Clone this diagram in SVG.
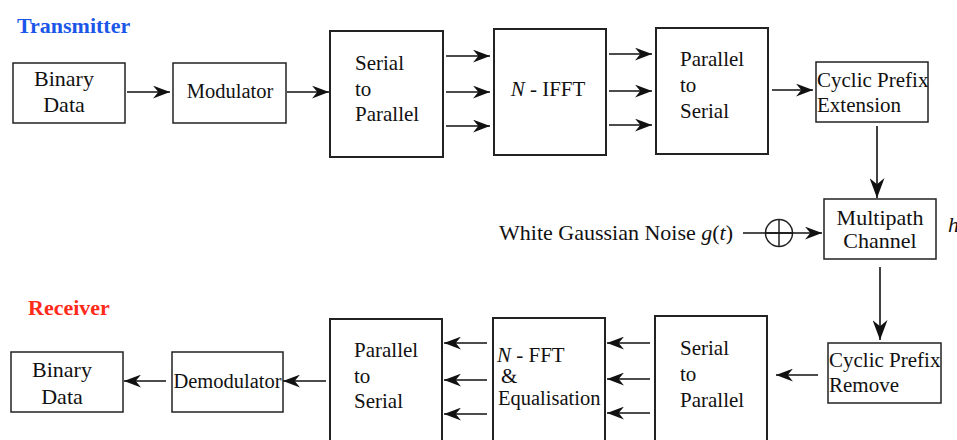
<svg xmlns="http://www.w3.org/2000/svg" width="957" height="440" viewBox="0 0 957 440" font-family="'Liberation Serif', 'DejaVu Serif', serif">
<style>
text{font-family:'Liberation Serif','DejaVu Serif',serif;font-size:21px;fill:#111}
.big{font-size:22px}
.m{font-size:20.5px}
.box{fill:#fff;stroke:#222;stroke-width:1.5}
.tb{stroke-width:2}
.c{text-anchor:middle}
.cn{fill:none;stroke:#111;stroke-width:1.6}
.lbl{font-weight:bold;font-size:22px}
</style>
<defs>
<marker id="ah" viewBox="0 0 16 12" refX="16" refY="6" markerWidth="17" markerHeight="13" markerUnits="userSpaceOnUse" orient="auto">
<path d="M0,0 L16,6 L0,12 L5,6 z" fill="#111"/>
</marker>
<marker id="ahv" viewBox="0 0 16 12" refX="16" refY="6" markerWidth="20" markerHeight="15" markerUnits="userSpaceOnUse" orient="auto">
<path d="M0,0 L16,6 L0,12 L5,6 z" fill="#111"/>
</marker>
</defs>
<rect width="957" height="440" fill="#fff"/>
<text x="17" y="33" class="lbl" style="fill:#1a56e8">Transmitter</text>
<text x="28" y="315" class="lbl" style="fill:#ff2a1a">Receiver</text>

<g id="tx-binary"><rect class="box" x="13" y="63" width="112" height="60"/><text class="c big" x="64" y="86">Binary</text><text class="c big" x="64" y="112">Data</text></g>
<g id="modulator"><rect class="box" x="173" y="63" width="113" height="60"/><text class="c m" x="230" y="98">Modulator</text></g>
<g id="tx-s2p"><rect class="box tb" x="330" y="31" width="113" height="126"/><text x="355" y="70">Serial</text><text x="355" y="96">to</text><text x="355" y="121">Parallel</text></g>
<g id="ifft"><rect class="box tb" x="494" y="29" width="112" height="126"/><text class="c" x="548" y="96"><tspan font-style="italic">N</tspan> - IFFT</text></g>
<g id="tx-p2s"><rect class="box tb" x="656" y="28" width="112" height="126"/><text x="680" y="66">Parallel</text><text x="680" y="92">to</text><text x="680" y="118">Serial</text></g>
<g id="cp-ext"><rect class="box" x="816" y="62" width="112" height="60"/><text x="817" y="87">Cyclic Prefix</text><text x="817" y="112">Extension</text></g>
<g id="channel"><rect class="box" x="824" y="199" width="112" height="60"/><text class="c big" x="880" y="225">Multipath</text><text class="c big" x="880" y="248">Channel</text></g>
<text x="948" y="232" class="big" font-style="italic">h</text>
<g id="noise"><text x="499" y="240" class="big">White Gaussian Noise <tspan font-style="italic">g</tspan>(<tspan font-style="italic">t</tspan>)</text></g>
<g id="adder"><circle cx="779" cy="233" r="13.5" fill="none" stroke="#222" stroke-width="1.5"/><path d="M765.5,233 H792.5 M779,219.5 V246.5" stroke="#222" stroke-width="1.5"/></g>
<g id="cp-rem"><rect class="box" x="828" y="343" width="113" height="60"/><text x="829" y="367">Cyclic Prefix</text><text x="829" y="392">Remove</text></g>
<g id="rx-s2p"><rect class="box tb" x="655" y="316" width="112" height="130"/><text x="680" y="355">Serial</text><text x="680" y="381">to</text><text x="680" y="407">Parallel</text></g>
<g id="fft"><rect class="box tb" x="493" y="318" width="112" height="130"/><text x="497" y="362"><tspan font-style="italic">N</tspan> - FFT</text><text x="501" y="383">&amp;</text><text x="498" y="405" class="m">Equalisation</text></g>
<g id="rx-p2s"><rect class="box tb" x="330" y="319" width="112" height="130"/><text x="354" y="357">Parallel</text><text x="354" y="383">to</text><text x="354" y="408">Serial</text></g>
<g id="demod"><rect class="box" x="172" y="352" width="111" height="60"/><text class="c m" x="227.5" y="388">Demodulator</text></g>
<g id="rx-binary"><rect class="box" x="11" y="352" width="112" height="60"/><text class="c big" x="62" y="377">Binary</text><text class="c big" x="62" y="404">Data</text></g>

<g id="connectors">
<path class="cn" marker-end="url(#ah)" d="M127,92 H170"/>
<path class="cn" marker-end="url(#ah)" d="M287,92 H329"/>
<path class="cn" marker-end="url(#ah)" d="M446,56 H490"/>
<path class="cn" marker-end="url(#ah)" d="M446,92 H490"/>
<path class="cn" marker-end="url(#ah)" d="M446,126 H490"/>
<path class="cn" marker-end="url(#ah)" d="M609,54 H652"/>
<path class="cn" marker-end="url(#ah)" d="M609,91 H652"/>
<path class="cn" marker-end="url(#ah)" d="M609,125 H652"/>
<path class="cn" marker-end="url(#ah)" d="M772,90 H813"/>
<path class="cn" marker-end="url(#ahv)" d="M877,126 V198"/>
<path class="cn" marker-end="url(#ah)" d="M743,233 H822"/>
<path class="cn" marker-end="url(#ahv)" d="M880,267 V340"/>
<path class="cn" marker-end="url(#ah)" d="M818,375 H776"/>
<path class="cn" marker-end="url(#ah)" d="M650,343 H607"/>
<path class="cn" marker-end="url(#ah)" d="M650,379 H607"/>
<path class="cn" marker-end="url(#ah)" d="M650,413 H607"/>
<path class="cn" marker-end="url(#ah)" d="M487,343 H444"/>
<path class="cn" marker-end="url(#ah)" d="M487,380 H444"/>
<path class="cn" marker-end="url(#ah)" d="M487,414 H444"/>
<path class="cn" marker-end="url(#ah)" d="M326,381 H283"/>
<path class="cn" marker-end="url(#ah)" d="M166,381 H124"/>
</g>
</svg>
